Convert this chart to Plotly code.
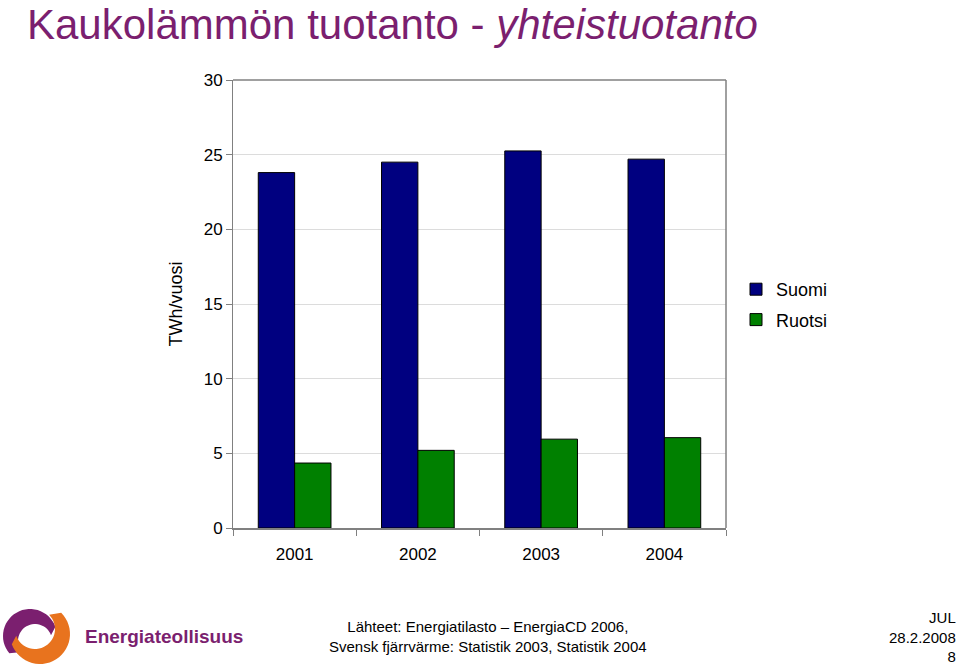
import plotly.graph_objects as go
import math

years = ["2001", "2002", "2003", "2004"]
suomi = [23.8, 24.5, 25.25, 24.7]
ruotsi = [4.35, 5.2, 5.95, 6.05]
yticks = [0, 5, 10, 15, 20, 25, 30]

W, H = 960, 666
L, R, T, B = 233, 726, 80, 528

def px(x):
    return (x - L) / (R - L)

def py(y):
    return (B - y) / (B - T)

PURPLE = "#7b1f6f"
ORANGE = "#e8731e"

fig = go.Figure()
fig.add_bar(x=years, y=suomi, name="Suomi", legendgroup="a",
            marker=dict(color="#000080", line=dict(color="black", width=1)))
fig.add_bar(x=years, y=ruotsi, name="Ruotsi", legendgroup="b",
            marker=dict(color="#008000", line=dict(color="black", width=1)))

fig.update_layout(
    width=W, height=H,
    margin=dict(l=L, r=W - R, t=T, b=H - B),
    paper_bgcolor="white", plot_bgcolor="white",
    barmode="group", bargap=0.41, bargroupgap=0,
    font=dict(family="Liberation Sans, Arial, sans-serif", color="black", size=17),
    showlegend=True,
    legend=dict(x=px(736), y=py(271), xanchor="left", yanchor="top",
                font=dict(size=18), itemwidth=30, tracegroupgap=4,
                bgcolor="rgba(0,0,0,0)"),
    xaxis=dict(type="category", showline=True, linecolor="#808080", linewidth=2,
               ticks="outside", tickson="boundaries", ticklen=6, tickcolor="#808080",
               mirror=False, tickfont=dict(size=17), ticklabelstandoff=10),
    yaxis=dict(range=[0, 30], tickvals=yticks, showgrid=True, gridcolor="#dcdcdc",
               showline=True, linecolor="#808080", linewidth=1, ticks="outside",
               ticklen=6, tickcolor="#808080", tickfont=dict(size=17),
               title=dict(text="TWh/vuosi", font=dict(size=18), standoff=16)),
)

# plot frame (top and right)
fig.add_shape(type="line", xref="paper", yref="paper", x0=0, x1=1, y0=1, y1=1,
              line=dict(color="#808080", width=1.5))
fig.add_shape(type="line", xref="paper", yref="paper", x0=1, x1=1, y0=0, y1=1,
              line=dict(color="#808080", width=1.5))

# title
fig.add_annotation(xref="paper", yref="paper", x=px(26), y=py(0), xanchor="left", yanchor="top",
                   showarrow=False, borderpad=0,
                   text="Kaukolämmön tuotanto - <i>yhteistuotanto</i>",
                   font=dict(family="Liberation Sans, Arial, sans-serif", size=42, color=PURPLE))

# footer texts
fig.add_annotation(xref="paper", yref="paper", x=px(488), y=py(636), xanchor="center", yanchor="middle",
                   showarrow=False, align="center",
                   text="Lähteet: Energiatilasto – EnergiaCD 2006,<br>Svensk fjärrvärme: Statistik 2003, Statistik 2004",
                   font=dict(family="Liberation Sans, Arial, sans-serif", size=15, color="black"))
fig.add_annotation(xref="paper", yref="paper", x=px(958), y=py(637), xanchor="right", yanchor="middle",
                   showarrow=False, align="right",
                   text="JUL<br>28.2.2008<br>8",
                   font=dict(family="Liberation Sans, Arial, sans-serif", size=15, color="black"))

# logo text
fig.add_annotation(xref="paper", yref="paper", x=px(83), y=py(636), xanchor="left", yanchor="middle",
                   showarrow=False, text="<b>Energiateollisuus</b>",
                   font=dict(family="Liberation Sans, Arial, sans-serif", size=19, color=PURPLE))

def path(points):
    return "M " + " L ".join(f"{px(x):.4f},{py(y):.4f}" for x, y in points) + " Z"

def crescent(cx, cy, r_out, r_in, a0, a1, dx=0, dy=0, n=30):
    pts = []
    for i in range(n + 1):
        a = math.radians(a0 + (a1 - a0) * i / n)
        pts.append((cx + r_out * math.cos(a), cy - r_out * math.sin(a)))
    for i in range(n, -1, -1):
        a = math.radians(a0 + (a1 - a0) * i / n)
        pts.append((cx + dx + r_in * math.cos(a), cy + dy - r_in * math.sin(a)))
    return pts

# purple crescent (upper-left)
fig.add_shape(type="path", xref="paper", yref="paper",
              path=path(crescent(30, 636, 27, 17, 20, 220, dx=5, dy=5)),
              fillcolor=PURPLE, line=dict(width=0))
# orange crescent (lower-right)
fig.add_shape(type="path", xref="paper", yref="paper",
              path=path(crescent(40, 634, 30, 20, -160, 45, dx=-5, dy=-5)),
              fillcolor=ORANGE, line=dict(width=0))

fig.write_html("out.html")
